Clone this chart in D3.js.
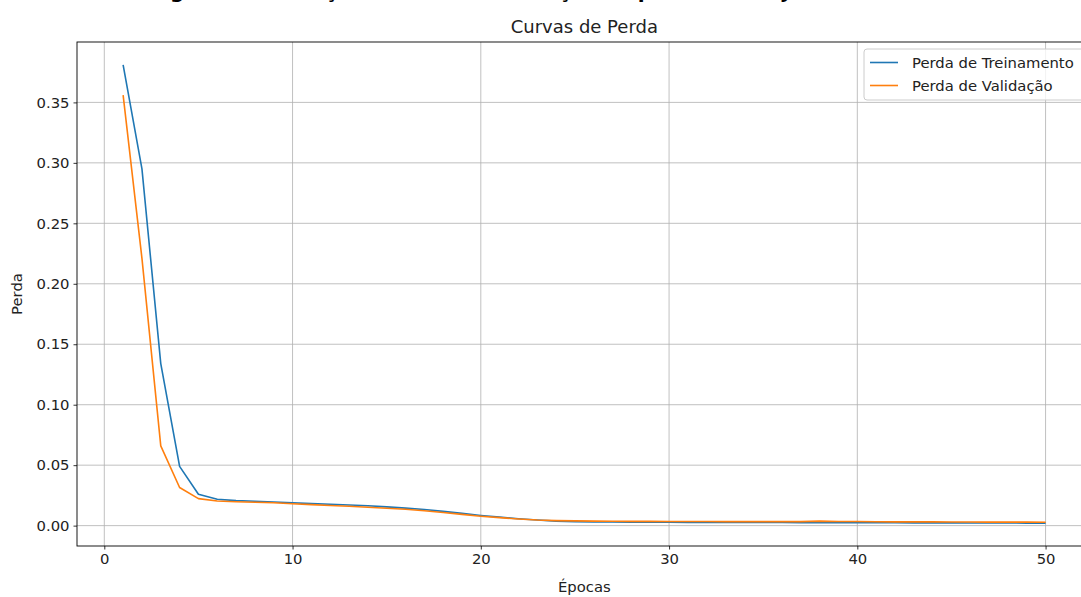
<!DOCTYPE html>
<html>
<head>
<meta charset="utf-8">
<title>Curvas de Perda</title>
<script src="https://d3js.org/d3.v7.min.js"></script>
<style>
body, html { margin: 0; padding: 0; background: #fff; }
svg { display: block; font-family: "DejaVu Sans", sans-serif; }
.grid line { stroke: #b0b0b0; stroke-width: 0.8px; }
.axis path, .axis line { stroke: #000; stroke-width: 0.8px; }
.axis text { font-size: 14.8px; fill: #222; font-family: "DejaVu Sans", sans-serif; }
</style>
</head>
<body>
<script>
// values
var epochs = d3.range(1, 51);
var trainLoss = [0.381, 0.295, 0.134, 0.049, 0.026, 0.0218, 0.0207, 0.0201, 0.0196, 0.0189,
  0.0182, 0.0177, 0.0171, 0.0164, 0.0155, 0.0145, 0.0133, 0.0118, 0.0101, 0.0084,
  0.0070, 0.0057, 0.0046, 0.0037, 0.0033, 0.0031, 0.0030, 0.0029, 0.0028, 0.0028,
  0.0027, 0.0027, 0.0027, 0.0026, 0.0026, 0.0026, 0.0025, 0.0025, 0.0025, 0.0024,
  0.0024, 0.0024, 0.0023, 0.0023, 0.0023, 0.0022, 0.0022, 0.0022, 0.0021, 0.0021];
var valLoss = [0.356, 0.221, 0.066, 0.0315, 0.0223, 0.0204, 0.0198, 0.0193, 0.0189, 0.0181,
  0.0174, 0.0167, 0.0160, 0.0152, 0.0144, 0.0135, 0.0123, 0.0109, 0.0093, 0.0078,
  0.0066, 0.0055, 0.0046, 0.0041, 0.0039, 0.0037, 0.0036, 0.0035, 0.0035, 0.0034,
  0.0034, 0.0034, 0.0033, 0.0033, 0.0033, 0.0033, 0.0033, 0.0037, 0.0034, 0.0034,
  0.0032, 0.0031, 0.0031, 0.0031, 0.0030, 0.0030, 0.0029, 0.0029, 0.0029, 0.0028];
var xTicks = [0, 10, 20, 30, 40, 50];
var yTicks = [0, 0.05, 0.10, 0.15, 0.20, 0.25, 0.30, 0.35];
var seriesNames = ["Perda de Treinamento", "Perda de Validação"];
var seriesColors = ["#1f77b4", "#ff7f0e"];

var width = 1081, height = 597;
var margin = {left: 77, top: 42, right: 1091.7, bottom: 546};

var svg = d3.select("body").append("svg")
  .attr("width", width)
  .attr("height", height);

// cut-off figure caption above the chart (only descenders show)
svg.append("text")
  .attr("x", 150)
  .attr("y", -2.5)
  .attr("font-size", 20)
  .attr("font-weight", "bold")
  .attr("textLength", 690)
  .text("Figura 4 – Evolução das Curvas e Função de perda do conjunto");

var x = d3.scaleLinear()
  .domain([1 - 49 * 0.05, 50 + 49 * 0.05])
  .range([margin.left, margin.right]);

var yMin = d3.min(trainLoss.concat(valLoss)), yMax = d3.max(trainLoss.concat(valLoss));
var pad = (yMax - yMin) * 0.05;
var y = d3.scaleLinear()
  .domain([yMin - pad, yMax + pad])
  .range([margin.bottom, margin.top]);

// grid
var grid = svg.append("g").attr("class", "grid");
grid.selectAll(".vx").data(xTicks).enter().append("line")
  .attr("x1", d => x(d)).attr("x2", d => x(d))
  .attr("y1", margin.top).attr("y2", margin.bottom);
grid.selectAll(".hy").data(yTicks).enter().append("line")
  .attr("x1", margin.left).attr("x2", margin.right)
  .attr("y1", d => y(d)).attr("y2", d => y(d));

// lines
var line = d3.line().x((d, i) => x(epochs[i])).y(d => y(d));
[trainLoss, valLoss].forEach(function(s, k) {
  svg.append("path")
    .datum(s)
    .attr("fill", "none")
    .attr("stroke", seriesColors[k])
    .attr("stroke-width", 1.6)
    .attr("stroke-linejoin", "round")
    .attr("d", line);
});

// frame
svg.append("rect")
  .attr("x", margin.left).attr("y", margin.top)
  .attr("width", margin.right - margin.left)
  .attr("height", margin.bottom - margin.top)
  .attr("fill", "none").attr("stroke", "#000").attr("stroke-width", 0.9);

// axes
svg.append("g")
  .attr("class", "axis")
  .attr("transform", "translate(0," + margin.bottom + ")")
  .call(d3.axisBottom(x).tickValues(xTicks).tickFormat(d3.format("d")).tickSizeOuter(0).tickSize(3.5).tickPadding(4))
  .call(g => g.select(".domain").remove());

svg.append("g")
  .attr("class", "axis")
  .attr("transform", "translate(" + margin.left + ",0)")
  .call(d3.axisLeft(y).tickValues(yTicks).tickFormat(d3.format(".2f")).tickSizeOuter(0).tickSize(3.5).tickPadding(4))
  .call(g => g.select(".domain").remove());

// titles
svg.append("text")
  .attr("x", (margin.left + margin.right) / 2)
  .attr("y", 33)
  .attr("text-anchor", "middle")
  .attr("font-size", 18)
  .attr("fill", "#222")
  .text("Curvas de Perda");

svg.append("text")
  .attr("x", (margin.left + margin.right) / 2)
  .attr("y", 592)
  .attr("text-anchor", "middle")
  .attr("font-size", 14.8)
  .attr("fill", "#222")
  .text("Épocas");

svg.append("text")
  .attr("transform", "translate(22," + (margin.top + margin.bottom) / 2 + ") rotate(-90)")
  .attr("text-anchor", "middle")
  .attr("font-size", 14.8)
  .attr("fill", "#222")
  .text("Perda");

// legend
var legend = svg.append("g").attr("transform", "translate(864,49)");
legend.append("rect")
  .attr("width", 235).attr("height", 51)
  .attr("rx", 3)
  .attr("fill", "#fff").attr("fill-opacity", 0.8)
  .attr("stroke", "#cccccc").attr("stroke-width", 1);
seriesNames.forEach(function(name, k) {
  var row = legend.append("g").attr("transform", "translate(0," + (13.5 + k * 23) + ")");
  row.append("line")
    .attr("x1", 6).attr("x2", 34)
    .attr("stroke", seriesColors[k]).attr("stroke-width", 1.6);
  row.append("text")
    .attr("x", 48).attr("y", 5)
    .attr("font-size", 14.8)
    .attr("fill", "#222")
    .text(name);
});
</script>
</body>
</html>
